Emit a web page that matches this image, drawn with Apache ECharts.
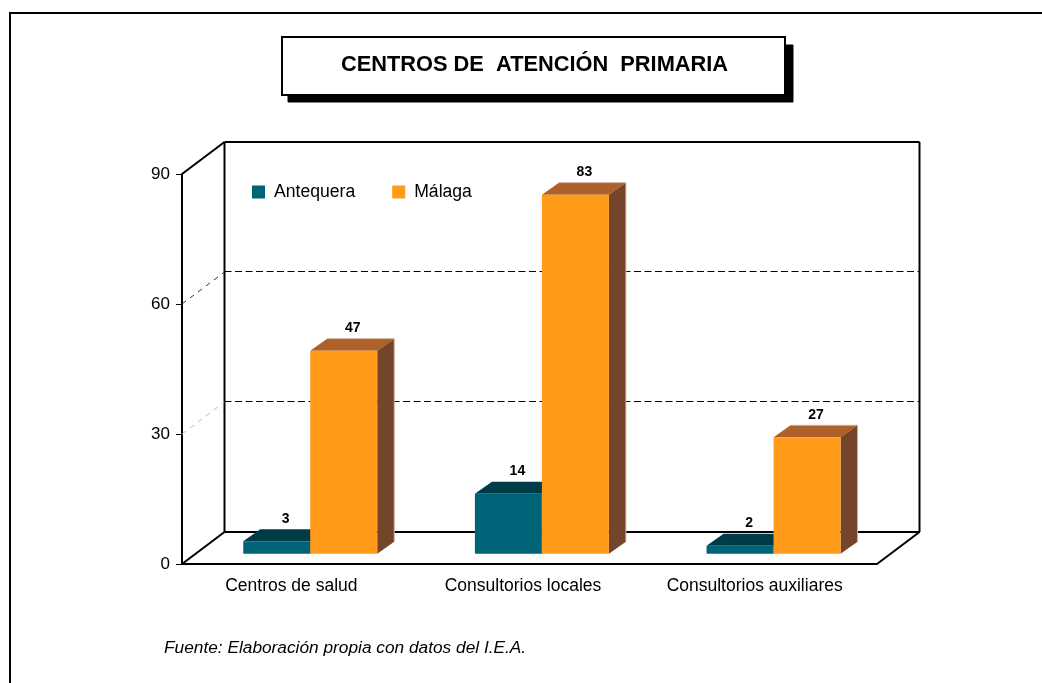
<!DOCTYPE html>
<html>
<head>
<meta charset="utf-8">
<title>Centros de atención primaria</title>
<style>
  html, body { margin: 0; padding: 0; background: #fff; }
  #chart { width: 1042px; height: 683px; }
</style>
<script src="https://cdn.jsdelivr.net/npm/echarts@6/dist/echarts.min.js"></script>
</head>
<body>
<div id="chart"></div>
<script>
var categories = ['Centros de salud', 'Consultorios locales', 'Consultorios auxiliares']
var antequera = [3, 14, 2]
var malaga = [47, 83, 27]
var yTicks = [0, 30, 60, 90]

var FONT = '"Liberation Sans", Arial, sans-serif'
// offset of the back wall from the front of the floor
var WALL_DX = 42.5
var WALL_DY = -32
// bars stand part way into the floor
var BAR_DX = 12.4
var BAR_BASE_DY = -10.3
var BAR_TOP_DY = -9.7
var BAR_W = 67
var DEPTH_X = 17
var DEPTH_Y = -12

function wallItem(params, api) {
  var cs = params.coordSys
  var left = cs.x
  var right = cs.x + cs.width
  var y0 = api.coord([0, 0])[1]
  var y90 = api.coord([0, 90])[1]
  var solid = { stroke: '#000', lineWidth: 2, fill: null }
  var children = []
  function line(x1, y1, x2, y2, style) {
    children.push({ type: 'line', shape: { x1: x1, y1: y1, x2: x2, y2: y2 }, style: style })
  }
  line(left + WALL_DX, y90 + WALL_DY, right + WALL_DX, y90 + WALL_DY, solid)
  line(left + WALL_DX, y0 + WALL_DY, right + WALL_DX, y0 + WALL_DY, solid)
  line(left + WALL_DX, y90 + WALL_DY, left + WALL_DX, y0 + WALL_DY, solid)
  line(right + WALL_DX, y90 + WALL_DY, right + WALL_DX, y0 + WALL_DY, solid)
  line(right, y0, right + WALL_DX, y0 + WALL_DY, solid)
  yTicks.forEach(function (v) {
    var y = api.coord([0, v])[1]
    if (v === 0 || v === 90) {
      line(left, y, left + WALL_DX, y + WALL_DY, solid)
      return
    }
    var sideColor = v === 30 ? '#bbb' : '#333'
    line(left, y, left + WALL_DX, y + WALL_DY, { stroke: sideColor, lineWidth: 1, lineDash: [5, 5] })
    // half pixel so the dashes stay crisp
    line(left + WALL_DX, y + WALL_DY - 0.5, right + WALL_DX, y + WALL_DY - 0.5, { stroke: '#000', lineWidth: 1, lineDash: [7, 3.5] })
  })
  return { type: 'group', children: children }
}

function barRenderer(front, top, side, slot, edge) {
  return function (params, api) {
    var idx = api.value(0)
    var val = api.value(1)
    var p = api.coord([idx, val])
    var base = api.coord([idx, 0])
    var x0 = p[0] + BAR_DX + slot * BAR_W
    var x1 = x0 + BAR_W
    var yTop = p[1] + BAR_TOP_DY
    var yBase = base[1] + BAR_BASE_DY
    var children = [
      { type: 'polygon', shape: { points: [[x0, yTop], [x1, yTop], [x1 + DEPTH_X, yTop + DEPTH_Y], [x0 + DEPTH_X, yTop + DEPTH_Y]] }, style: { fill: top } },
      { type: 'polygon', shape: { points: [[x1, yTop], [x1 + DEPTH_X, yTop + DEPTH_Y], [x1 + DEPTH_X, yBase + DEPTH_Y], [x1, yBase]] }, style: { fill: side } },
      { type: 'rect', shape: { x: x0, y: yTop, width: BAR_W, height: yBase - yTop }, style: { fill: front } },
      { type: 'text', x: x0 + BAR_W / 2 + DEPTH_X / 2 + 0.5, y: yTop + DEPTH_Y - 10.5, style: { text: String(val), fill: '#000', font: 'bold 14px ' + FONT, align: 'center', verticalAlign: 'middle' } }
    ]
    if (edge) {
      children.splice(2, 0, { type: 'polyline', shape: { points: [[x0 + DEPTH_X, yTop + DEPTH_Y], [x1 + DEPTH_X, yTop + DEPTH_Y], [x1 + DEPTH_X, yBase + DEPTH_Y]] }, style: { stroke: edge, lineWidth: 1, fill: null } })
    }
    return { type: 'group', children: children }
  }
}

function toPairs(values) {
  return values.map(function (v, i) { return [i, v] })
}

var chart = echarts.init(document.getElementById('chart'))
chart.setOption({
  animation: false,
  backgroundColor: '#fff',
  textStyle: { fontFamily: FONT },
  title: {
    text: 'CENTROS DE  ATENCIÓN  PRIMARIA',
    left: 341,
    top: 54,
    padding: 0,
    textStyle: { fontFamily: FONT, fontWeight: 'bold', fontSize: 21.8, color: '#000' }
  },
  legend: {
    left: 252,
    top: 183,
    padding: 0,
    itemWidth: 13,
    itemHeight: 13,
    itemGap: 37,
    icon: 'rect',
    selectedMode: false,
    data: ['Antequera', 'Málaga'],
    textStyle: { fontFamily: FONT, fontSize: 17.6, color: '#000', padding: [2, 0, 0, 4] }
  },
  grid: { left: 182, top: 174, width: 695, height: 390 },
  xAxis: {
    type: 'category',
    data: categories,
    axisLine: { lineStyle: { color: '#000', width: 2 } },
    axisTick: { length: 4, lineStyle: { color: '#000', width: 1 } },
    axisLabel: { color: '#000', fontFamily: FONT, fontSize: 17.5, margin: 13, padding: [0, 13, 0, 0] }
  },
  yAxis: {
    type: 'value',
    min: 0,
    max: 90,
    interval: 30,
    splitLine: { show: false },
    axisLine: { show: true, lineStyle: { color: '#000', width: 2 } },
    axisTick: { show: true, length: 6, lineStyle: { color: '#000', width: 1 } },
    axisLabel: { color: '#000', fontFamily: FONT, fontSize: 17, margin: 12, padding: [0, 0, 3, 0] }
  },
  graphic: [
    { type: 'polyline', silent: true, z: -1, shape: { points: [[10, 690], [10, 13], [1050, 13]] }, style: { fill: null, stroke: '#000', lineWidth: 2 } },
    { type: 'rect', silent: true, z: -1, shape: { x: 288, y: 45, width: 505, height: 57 }, style: { fill: '#000', stroke: '#000' } },
    { type: 'rect', silent: true, z: -1, shape: { x: 282, y: 37, width: 503, height: 58 }, style: { fill: '#fff', stroke: '#000', lineWidth: 2 } },
    { type: 'text', silent: true, x: 164, y: 648, style: { text: 'Fuente: Elaboración propia con datos del I.E.A.', fill: '#000', font: 'italic 17.3px ' + FONT, verticalAlign: 'middle' } }
  ],
  series: [
    { type: 'custom', name: 'wall', silent: true, data: [[0, 0]], renderItem: wallItem, z: 1 },
    { type: 'custom', name: 'Antequera', silent: true, data: toPairs(antequera), itemStyle: { color: '#006478' }, renderItem: barRenderer('#006478', '#003c48', '#003c48', -1), z: 2 },
    { type: 'custom', name: 'Málaga', silent: true, data: toPairs(malaga), itemStyle: { color: '#ff9b18' }, renderItem: barRenderer('#ff9b18', '#ad6128', '#74452a', 0, '#c8b4a0'), z: 3 }
  ]
})
</script>
</body>
</html>
